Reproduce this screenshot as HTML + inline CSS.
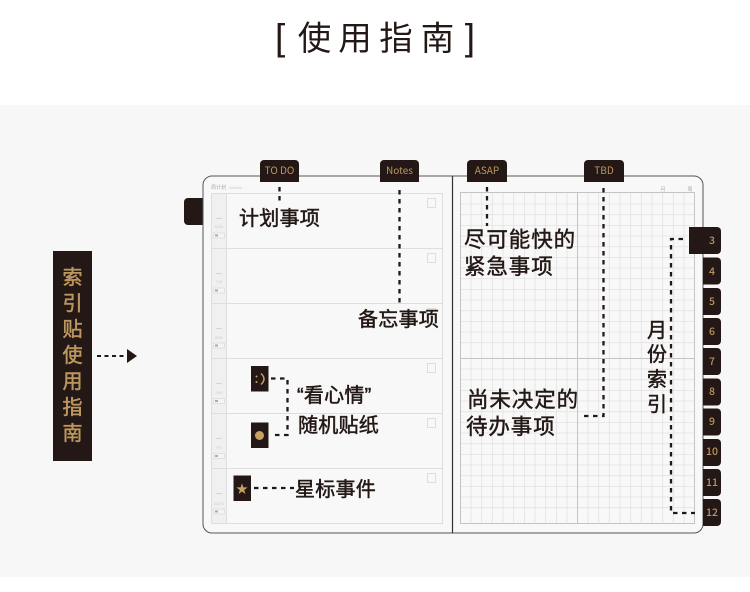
<!DOCTYPE html>
<html><head><meta charset="utf-8">
<style>
html,body{margin:0;padding:0;background:#fff}
svg{display:block}
text{font-family:"Liberation Sans","Noto Sans CJK SC",sans-serif}
.lb{font-size:20px;fill:#231815;stroke:#231815;stroke-width:.5px;letter-spacing:.25px}
.lg{font-size:21.5px;fill:#231815;stroke:#231815;stroke-width:.45px;letter-spacing:.9px}
.tab{font-family:"Noto Sans CJK SC",sans-serif;font-size:10px;fill:#bd9760;text-anchor:middle}
.mn{font-family:"Noto Sans CJK SC",sans-serif;font-size:10.5px;fill:#bd9760;text-anchor:middle;font-weight:500}
.d{fill:none;stroke:#231815;stroke-width:2.3;stroke-dasharray:4.5 4.5}
.v{font-size:20px;fill:#bd9760;stroke:#bd9760;stroke-width:.5px;text-anchor:middle}
.t{font-size:33.500px;fill:#231815;text-anchor:middle}
.s{fill:#231815}
</style></head><body>
<svg width="750" height="592" viewBox="0 0 750 592" xmlns="http://www.w3.org/2000/svg">
<rect width="750" height="592" fill="#fff"/>
<rect y="105" width="750" height="472" fill="#f7f7f7"/>
<text x="275" y="50" font-size="37" fill="#231815">[</text>
<text class="t" x="314.500" y="50">使</text>
<text class="t" x="355" y="50">用</text>
<text class="t" x="396" y="50">指</text>
<text class="t" x="437.500" y="50">南</text>
<text x="475" y="50" font-size="37" fill="#231815" text-anchor="end">]</text>

<!-- left guide -->
<rect x="53" y="251" width="39" height="210" class="s"/>
<text class="v" x="72.500" y="284">索</text><text class="v" x="72.500" y="310">引</text><text class="v" x="72.500" y="336">贴</text><text class="v" x="72.500" y="362">使</text><text class="v" x="72.500" y="388">用</text><text class="v" x="72.500" y="414">指</text><text class="v" x="72.500" y="440">南</text>
<path d="M97 356H127" fill="none" stroke="#231815" stroke-width="2" stroke-dasharray="4 3.500"/>
<path d="M127 349L137 356L127 363Z" class="s"/>

<!-- left tab -->
<path d="M203 198H188a4 4 0 0 0-4 4V221a4 4 0 0 0 4 4H203Z" class="s"/>
<!-- notebook -->
<rect x="203" y="176" width="500" height="357" rx="9" fill="#f8f8f8" stroke="#555" stroke-width="1"/>
<path d="M452.500 176V533" stroke="#333" stroke-width="1.200"/>

<!-- left page -->
<text x="211" y="189" font-size="5" fill="#aaa">周计划</text>
<text x="229" y="189" font-size="4" fill="#ccc">Weekly</text>
<rect x="212" y="193" width="14" height="330" fill="#f0f0f0"/>
<g fill="none" stroke="#dedede" stroke-width="1">
<rect x="211.500" y="193.500" width="231" height="330"/>
<path d="M226.500 193V523M211 248.500H443M211 303.500H443M211 358.500H443M211 413.500H443M211 468.500H443"/>
<rect x="427.500" y="198.500" width="8" height="9"/><rect x="427.500" y="253.500" width="8" height="9"/><rect x="427.500" y="308.500" width="8" height="9"/><rect x="427.500" y="363.500" width="8" height="9"/><rect x="427.500" y="418.500" width="8" height="9"/><rect x="427.500" y="473.500" width="8" height="9"/>
</g>
<g fill="#f4f4f4" stroke="#d4d4d4" stroke-width=".6">
<rect x="213.500" y="233" width="11" height="5"/><rect x="213.500" y="288" width="11" height="5"/><rect x="213.500" y="343" width="11" height="5"/><rect x="213.500" y="398.500" width="11" height="5"/><rect x="213.500" y="453.500" width="11" height="5"/><rect x="213.500" y="509" width="11" height="5"/>
</g>
<g fill="#aaa">
<rect x="215" y="234.500" width="3" height="2"/><rect x="215" y="289.500" width="3" height="2"/><rect x="215" y="344.500" width="3" height="2"/><rect x="215" y="400" width="3" height="2"/><rect x="215" y="455" width="3" height="2"/><rect x="215" y="510.500" width="3" height="2"/>
</g>
<g stroke="#ccc" stroke-width=".7">
<path d="M216 218.500H222M216 273.500H222M216 328.500H222M216 383.500H222M216 438.500H222M216 493.500H222"/>
</g>
<g font-size="3.500" fill="#ccc" text-anchor="middle">
<text x="219" y="228">MON</text><text x="219" y="283">TUE</text><text x="219" y="339">WED</text><text x="219" y="394">THU</text><text x="219" y="449">FRI</text><text x="219" y="505">SAT/S</text>
</g>

<!-- right page grid -->
<g stroke="#e2e2e2" stroke-width=".8" fill="none">
<path d="M471 193V523M481.700 193V523M492.300 193V523M503 193V523M513.700 193V523M524.400 193V523M535 193V523M545.700 193V523M556.400 193V523M567 193V523M588 193V523M598.700 193V523M609.300 193V523M620 193V523M630.700 193V523M641.300 193V523M652 193V523M662.700 193V523M673.300 193V523M684 193V523"/>
<path d="M460 204H694M460 214.700H694M460 225.400H694M460 236H694M460 246.700H694M460 257.400H694M460 268H694M460 278.700H694M460 289.400H694M460 300H694M460 310.700H694M460 321.400H694M460 332H694M460 342.700H694M460 369H694M460 379.700H694M460 390.400H694M460 401H694M460 411.700H694M460 422.400H694M460 433H694M460 443.700H694M460 454.400H694M460 465H694M460 475.700H694M460 486.400H694M460 497H694M460 507.700H694"/>
</g>
<g stroke="#c4c4c4" stroke-width="1" fill="none">
<rect x="460.500" y="192.500" width="234" height="331"/>
<path d="M577.500 193V523M460 358.500H694"/>
</g>
<text x="663" y="191" font-size="5" fill="#aaa" text-anchor="middle">月</text>
<text x="690" y="191" font-size="5" fill="#aaa" text-anchor="middle">周</text>

<!-- top tabs -->
<path d="M260 182V164a4 4 0 0 1 4-4H295a4 4 0 0 1 4 4V182Z" class="s"/>
<path d="M380 182V164a4 4 0 0 1 4-4H415a4 4 0 0 1 4 4V182Z" class="s"/>
<path d="M467 182V164a4 4 0 0 1 4-4H503a4 4 0 0 1 4 4V182Z" class="s"/>
<path d="M584 182V164a4 4 0 0 1 4-4H620a4 4 0 0 1 4 4V182Z" class="s"/>
<text class="tab" x="279.500" y="174">TO DO</text>
<text class="tab" x="399.500" y="174">Notes</text>
<text class="tab" x="487" y="174">ASAP</text>
<text class="tab" x="604" y="174">TBD</text>

<!-- month tabs -->
<path d="M689 227H717a4 4 0 0 1 4 4V250a4 4 0 0 1-4 4H689Z" class="s"/>
<path d="M703 257.500H717a4 4 0 0 1 4 4V280.500a4 4 0 0 1-4 4H703Z" class="s"/>
<path d="M703 288H717a4 4 0 0 1 4 4V311a4 4 0 0 1-4 4H703Z" class="s"/>
<path d="M703 318H717a4 4 0 0 1 4 4V341a4 4 0 0 1-4 4H703Z" class="s"/>
<path d="M703 348H717a4 4 0 0 1 4 4V371a4 4 0 0 1-4 4H703Z" class="s"/>
<path d="M703 378.500H717a4 4 0 0 1 4 4V401.500a4 4 0 0 1-4 4H703Z" class="s"/>
<path d="M703 408.500H717a4 4 0 0 1 4 4V431.500a4 4 0 0 1-4 4H703Z" class="s"/>
<path d="M703 439H717a4 4 0 0 1 4 4V462a4 4 0 0 1-4 4H703Z" class="s"/>
<path d="M703 469H717a4 4 0 0 1 4 4V492a4 4 0 0 1-4 4H703Z" class="s"/>
<path d="M703 499H717a4 4 0 0 1 4 4V522a4 4 0 0 1-4 4H703Z" class="s"/>
<text class="mn" x="712" y="244">3</text><text class="mn" x="712" y="275">4</text><text class="mn" x="712" y="305">5</text><text class="mn" x="712" y="335">6</text><text class="mn" x="712" y="365">7</text><text class="mn" x="712" y="395">8</text><text class="mn" x="712" y="425">9</text><text class="mn" x="712" y="455">10</text><text class="mn" x="712" y="486">11</text><text class="mn" x="712" y="516">12</text>

<!-- dashed -->
<path class="d" d="M279.500 187V202"/>
<path class="d" d="M399.500 190V304"/>
<path class="d" d="M487 187V226"/>
<path class="d" d="M603.500 188V416H581"/>
<path class="d" d="M683 239H671V513H695"/>
<path class="d" d="M271 378.500H287.500V435H272"/>
<path class="d" d="M254 488H294"/>

<!-- stickers -->
<rect x="251" y="366" width="17.500" height="25.500" class="s"/>
<rect x="251" y="422.500" width="17.500" height="25.500" class="s"/>
<rect x="233.500" y="475.500" width="17.500" height="25.500" class="s"/>
<circle cx="256.500" cy="376.500" r="1" fill="#c9a063"/><circle cx="256.500" cy="382" r="1" fill="#c9a063"/>
<path d="M261 373.500Q267 379 261 384.500" fill="none" stroke="#c9a063" stroke-width="1.500"/>
<circle cx="259.500" cy="435.500" r="4.500" fill="#c9a063"/>
<text x="242" y="493" font-size="12" fill="#c9a063" text-anchor="middle">★</text>

<!-- labels -->
<text class="lb" x="239" y="225">计划事项</text>
<text class="lb" x="358" y="326">备忘事项</text>
<text class="lb" x="297" y="402">“看心情”</text>
<text class="lb" x="298" y="432">随机贴纸</text>
<text class="lb" x="295" y="496">星标事件</text>
<text class="lg" x="464" y="247">尽可能快的</text>
<text class="lg" x="464" y="274">紧急事项</text>
<text class="lg" x="467" y="407">尚未决定的</text>
<text class="lg" x="466" y="434">待办事项</text>
<text class="lb" x="647" y="337">月</text>
<text class="lb" x="647" y="361">份</text>
<text class="lb" x="647" y="386">索</text>
<text class="lb" x="647" y="411">引</text>
</svg>
</body></html>
